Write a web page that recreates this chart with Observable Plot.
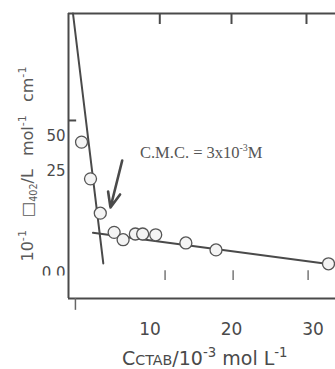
<!DOCTYPE html>
<html><head><meta charset="utf-8">
<script src="https://cdn.jsdelivr.net/npm/d3@7"></script>
<script src="https://cdn.jsdelivr.net/npm/@observablehq/plot@0.6"></script>
<style>body{margin:0;background:#fff} svg{display:block}</style>
</head><body><div id="chart"></div>
<script>
// Data (arbitrary y units as drawn)
const concentration = [1.6, 2.7, 3.9, 5.6, 6.7, 8.2, 9.1, 10.7, 14.4, 18.1, 31.9];
const absorbance    = [32.2, 23.2, 14.8, 10.1, 8.3, 9.7, 9.7, 9.5, 7.5, 5.8, 2.4];
const steepFitX = [0.55, 4.27];
const steepFitY = [63.7, 2.5];
const flatFitX  = [3.0, 32.1];
const flatFitY  = [10.0, 2.3];
const xTickValues = [10, 20, 30];
const xTickLabels = ["10", "20", "30"];
const yTickValues = [0, 25, 33.6];
const yTickLabels = ["0 0", "25", "50"];
const topTickX = [11.2, 20.0, 29.2];
const innerTickX = [11.85, 20.2, 29.4];
const leftTickY = [37.5];
const arrowFrom = [6.59, 27.7];
const arrowTo = [5.15, 16.2];
const cmcLabelAt = [8.83, 28.2];

const ink = "#4a4a4a";
const xDomain = [0, 32.76];
const yDomain = [-6.1, 63.7];

const points = concentration.map((c, i) => ({x: c, y: absorbance[i]}));
const steep = steepFitX.map((x, i) => ({x, y: steepFitY[i]}));
const flat = flatFitX.map((x, i) => ({x, y: flatFitY[i]}));

const plot = Plot.plot({
  width: 335, height: 369,
  marginLeft: 68, marginRight: 0, marginTop: 13, marginBottom: 71,
  style: {fontFamily: "DejaVu Sans", color: ink, background: "#fff"},
  x: {domain: xDomain},
  y: {domain: yDomain},
  marks: [
    Plot.ruleX([xDomain[0]], {y1: yDomain[0], y2: yDomain[1], stroke: ink, strokeWidth: 2}),
    Plot.ruleY([yDomain[0], yDomain[1]], {x1: xDomain[0], x2: xDomain[1], stroke: ink, strokeWidth: 2}),
    Plot.ruleX(topTickX, {y1: yDomain[1], y2: yDomain[1] - 2.7, stroke: ink, strokeWidth: 2}),
    Plot.ruleX(innerTickX, {y1: 0.7, y2: -1.7, stroke: "#777", strokeWidth: 1.5}),
    Plot.ruleX([0.85], {y1: yDomain[0], y2: yDomain[0] - 2.9, stroke: "#666", strokeWidth: 1.5}),
    Plot.ruleY(leftTickY, {x1: 0, x2: 1.0, stroke: ink, strokeWidth: 2}),
    Plot.line(steep, {x: "x", y: "y", stroke: ink, strokeWidth: 2}),
    Plot.line(flat, {x: "x", y: "y", stroke: ink, strokeWidth: 2}),
    Plot.dot(points, {x: "x", y: "y", r: 6, stroke: "#555", strokeWidth: 1.3, fill: "#f4f4f4"}),
    Plot.arrow([{}], {x1: () => arrowFrom[0], y1: () => arrowFrom[1], x2: () => arrowTo[0], y2: () => arrowTo[1],
      stroke: ink, strokeWidth: 2.6, headLength: 13, headAngle: 45}),
    Plot.axisX({ticks: xTickValues, tickFormat: (d, i) => xTickLabels[i], tickSize: 0, tickPadding: 24, fontSize: 17, label: null}),
    Plot.axisY({ticks: yTickValues, tickFormat: (d, i) => yTickLabels[i], tickSize: 0, tickPadding: 3, fontSize: 15, label: null})
  ]
});
document.getElementById("chart").append(plot);

const sx = plot.scale("x"), sy = plot.scale("y");
const svg = d3.select(plot);

// The scan cuts off the lower half of the "0 0" label (clip in the label's own coordinates)
svg.append("defs").append("clipPath").attr("id", "zero-cut")
  .append("rect").attr("x", -60).attr("y", -20).attr("width", 80).attr("height", 22);
svg.selectAll("text").filter(function() { return this.textContent === "0 0"; })
  .attr("clip-path", "url(#zero-cut)");

function rich(sel, parts, size) {
  let shift = 0;
  for (const [t, kind, scale] of parts) {
    const fs = size * (scale || 1);
    const target = kind === "sup" ? -0.42 * size : kind === "sub" ? 0.28 * size : 0;
    sel.append("tspan").attr("font-size", fs).attr("dy", target - shift).text(t);
    shift = target;
  }
}

// CMC annotation
const cmc = svg.append("text")
  .attr("x", sx.apply(cmcLabelAt[0])).attr("y", sy.apply(cmcLabelAt[1]))
  .attr("text-anchor", "start")
  .attr("font-family", "Liberation Serif").attr("fill", "#555");
rich(cmc, [["C.M.C. = 3x10"], ["-3", "sup", 0.6], ["M"]], 16.5);

// x title
const xt = svg.append("text").attr("x", 122).attr("y", 365)
  .attr("text-anchor", "start")
  .attr("font-family", "DejaVu Sans").attr("fill", ink);
rich(xt, [["C"], ["CTAB", null, 0.75], ["/10"], ["-3", "sup", 0.7], [" mol L"], ["-1", "sup", 0.7]], 19);

// y title
const yt = svg.append("text").attr("transform", "translate(33,164) rotate(-90)")
  .attr("text-anchor", "middle").attr("font-family", "DejaVu Sans").attr("fill", "#5a5a5a")
  .attr("word-spacing", 8);
rich(yt, [["10"], ["-1", "sup", 0.7], [" \u25A1"], ["402", "sub", 0.6], ["/L mol"], ["-1", "sup", 0.7], [" cm"], ["-1", "sup", 0.7]], 16);
</script>
</body></html>
